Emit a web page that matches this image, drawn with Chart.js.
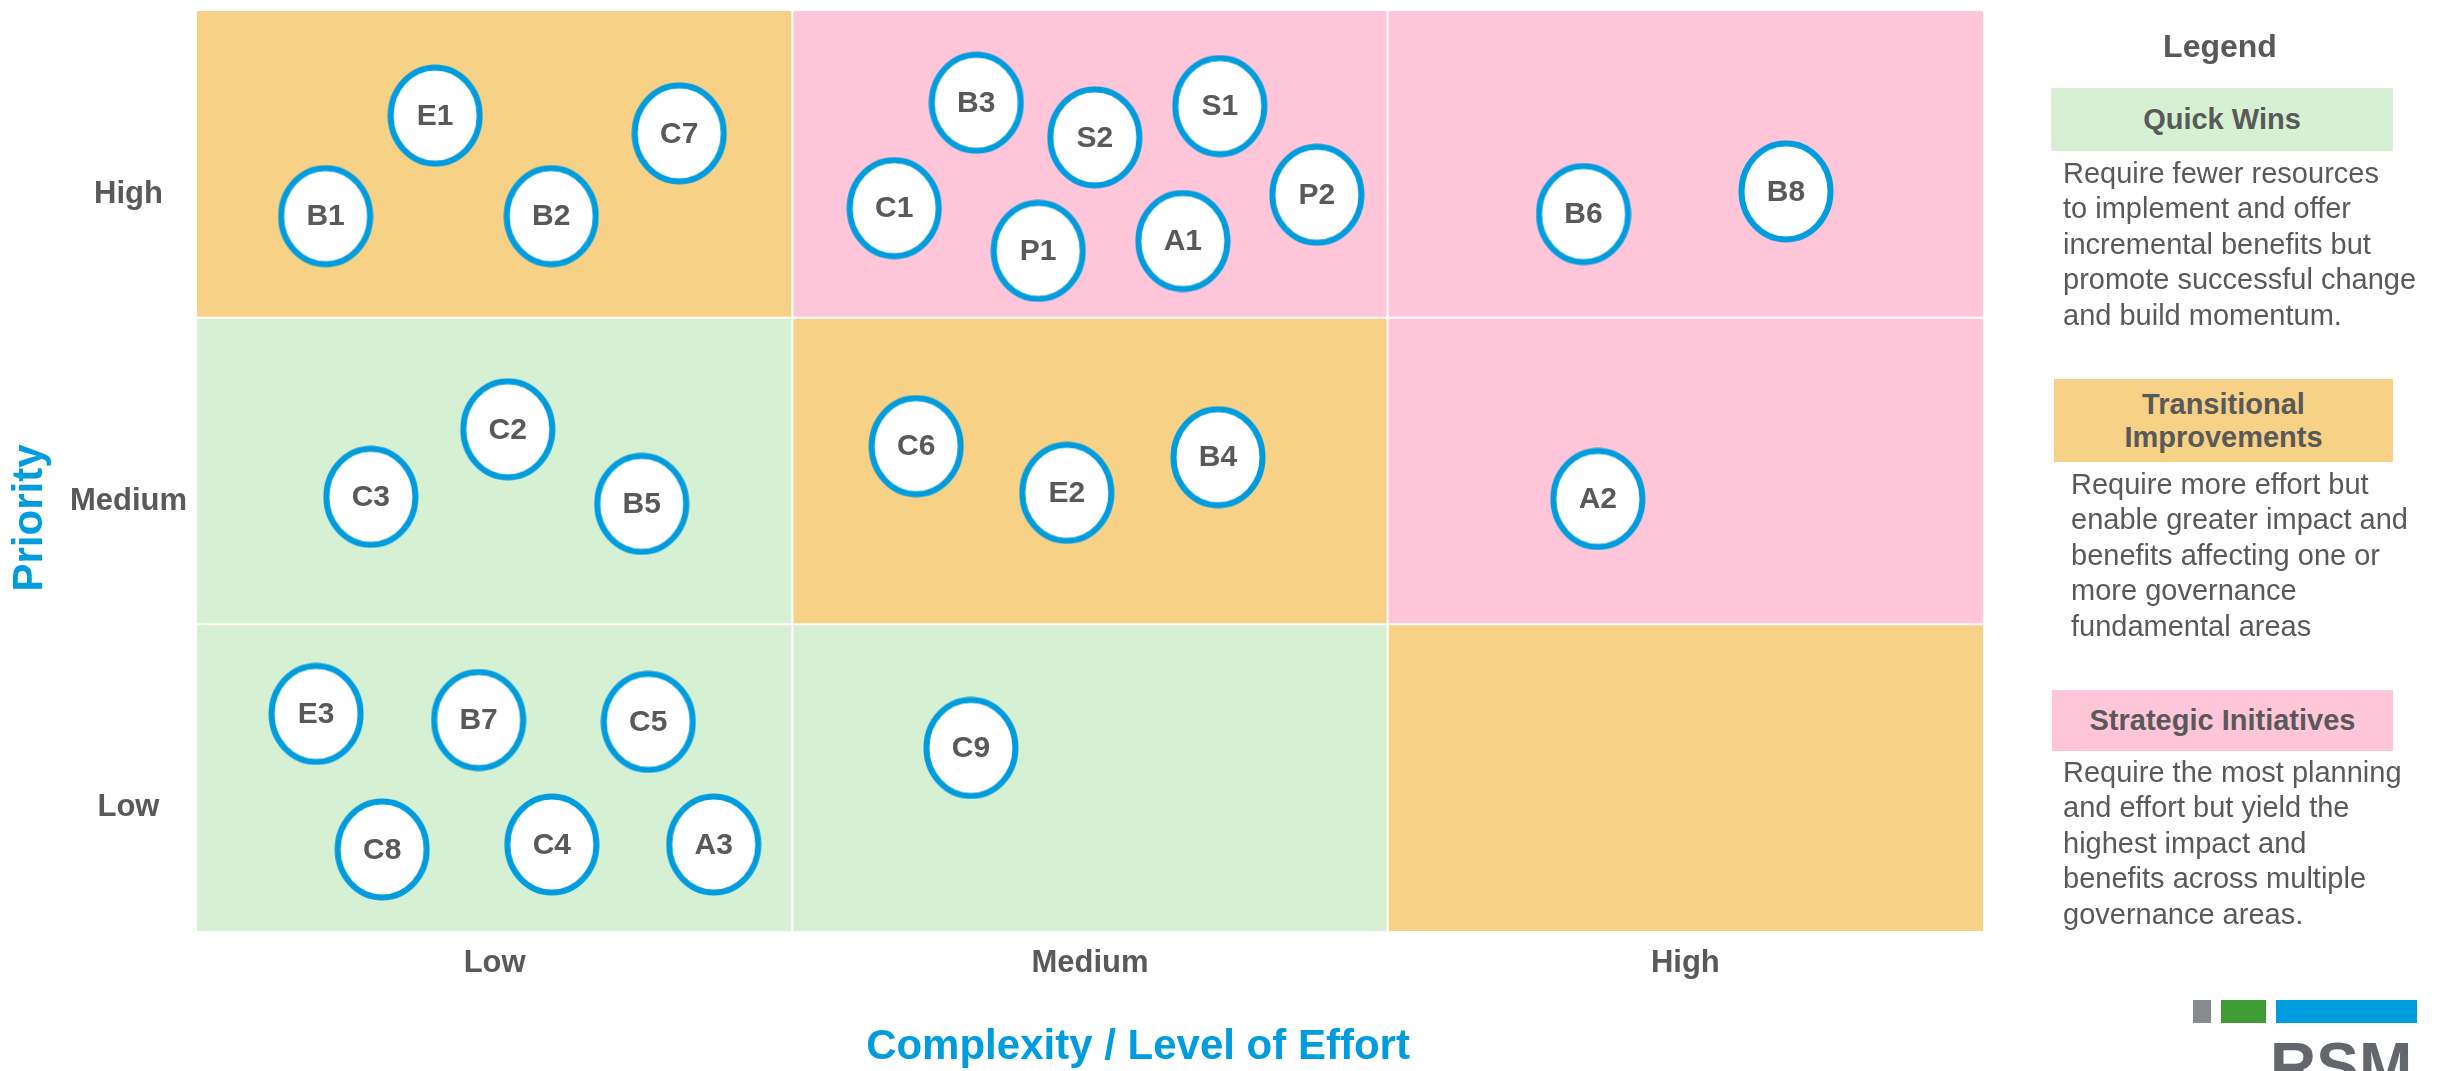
<!DOCTYPE html>
<html>
<head>
<meta charset="utf-8">
<script src="https://cdn.jsdelivr.net/npm/chart.js@4.4.1/dist/chart.umd.min.js"></script>
<style>
  html, body { margin: 0; padding: 0; background: #ffffff; overflow: hidden; }
  #wrap { position: relative; width: 2443px; height: 1071px; font-family: "Liberation Sans", Arial, sans-serif; }
  #chart { position: absolute; left: 0; top: 0; }
  .abs { position: absolute; }
  .lg-title { left: 2100px; top: 27px; width: 240px; text-align: center; font-weight: bold; font-size: 32px; line-height: 38px; color: #595959; }
  .lg-box { font-weight: bold; font-size: 29px; color: #595959; text-align: center; display: flex; align-items: center; justify-content: center; line-height: 33px; }
  .lg-desc { font-size: 29px; line-height: 35.4px; color: #595959; white-space: nowrap; }
  .logo-sq { position: absolute; top: 1000px; height: 23px; }
  .logo-txt { left: 2270px; top: 1034px; font-weight: bold; font-size: 64px; line-height: 64px; color: #63666A; }
</style>
</head>
<body>
<div id="wrap">
  <canvas id="chart" width="2443" height="1071"></canvas>

  <div class="abs lg-title">Legend</div>

  <div class="abs lg-box" style="left:2051px;top:88px;width:342px;height:63px;background:#D6F0D4;">Quick Wins</div>
  <div class="abs lg-desc" style="left:2063px;top:156px;">Require fewer resources<br>to implement and offer<br>incremental benefits but<br>promote successful change<br>and build momentum.</div>

  <div class="abs lg-box" style="left:2054px;top:379px;width:339px;height:83px;background:#F6D186;">Transitional<br>Improvements</div>
  <div class="abs lg-desc" style="left:2071px;top:467px;">Require more effort but<br>enable greater impact and<br>benefits affecting one or<br>more governance<br>fundamental areas</div>

  <div class="abs lg-box" style="left:2052px;top:690px;width:341px;height:61px;background:#FFC6D9;">Strategic Initiatives</div>
  <div class="abs lg-desc" style="left:2063px;top:755px;">Require the most planning<br>and effort but yield the<br>highest impact and<br>benefits across multiple<br>governance areas.</div>

  <div class="logo-sq" style="left:2193px;width:18px;background:#888B8D;"></div>
  <div class="logo-sq" style="left:2221px;width:45px;background:#3F9C35;"></div>
  <div class="logo-sq" style="left:2276px;width:141px;background:#009CDE;"></div>
  <div class="abs logo-txt">RSM</div>
</div>

<script>
// ---------- DATA ----------
const effortCategories = ['Low', 'Medium', 'High'];      // x axis, left to right
const priorityCategories = ['Low', 'Medium', 'High'];    // y axis, bottom to top

// quadrant type of each cell, rows = priority Low..High, cols = effort Low..High
const cellTypesLow    = ['Quick Wins', 'Quick Wins', 'Transitional Improvements'];
const cellTypesMedium = ['Quick Wins', 'Transitional Improvements', 'Strategic Initiatives'];
const cellTypesHigh   = ['Transitional Improvements', 'Strategic Initiatives', 'Strategic Initiatives'];

const itemLabels = ['B1','E1','B2','C7','C1','B3','S2','S1','P1','A1','P2','B6','B8',
                    'C3','C2','B5','C6','E2','B4','A2',
                    'E3','B7','C5','C8','C4','A3','C9'];
const itemEffort = [0.216,0.400,0.595,0.810,1.171,1.309,1.508,1.718,1.413,1.656,1.881,2.329,2.669,
                    0.292,0.522,0.747,1.208,1.461,1.715,2.353,
                    0.200,0.473,0.758,0.311,0.596,0.868,1.300];
const itemPriority = [2.331,2.659,2.331,2.601,2.357,2.701,2.588,2.690,2.218,2.250,2.401,2.338,2.412,
                      1.416,1.636,1.393,1.581,1.429,1.545,1.409,
                      0.708,0.688,0.682,0.266,0.282,0.282,0.597];

// ---------- STYLES ----------
const quadrantColors = {
  'Quick Wins': '#D6F0D4',
  'Transitional Improvements': '#F6D186',
  'Strategic Initiatives': '#FFC6D9'
};
const BLUE = '#009CDE';
const GREY_TEXT = '#595959';
const FONT = '"Liberation Sans", Arial, sans-serif';

function makeEllipse(w, h, lw, color) {
  const c = document.createElement('canvas');
  c.width = w; c.height = h;
  const g = c.getContext('2d');
  g.beginPath();
  g.ellipse(w / 2, h / 2, w / 2 - lw / 2 - 0.5, h / 2 - lw / 2 - 0.5, 0, 0, Math.PI * 2);
  g.fillStyle = '#ffffff';
  g.fill();
  g.lineWidth = lw;
  g.strokeStyle = color;
  g.stroke();
  return c;
}
const ellipseStyle = makeEllipse(96, 103, 6, BLUE);

const cellRows = [cellTypesLow, cellTypesMedium, cellTypesHigh];

const quadrantPlugin = {
  id: 'quadrants',
  beforeDraw(chart) {
    const { ctx, scales: { x, y } } = chart;
    ctx.save();
    cellRows.forEach((row, r) => {
      row.forEach((type, c) => {
        const x0 = x.getPixelForValue(c), x1 = x.getPixelForValue(c + 1);
        const y0 = y.getPixelForValue(r + 1), y1 = y.getPixelForValue(r);
        ctx.fillStyle = quadrantColors[type];
        ctx.fillRect(x0, y0, x1 - x0, y1 - y0);
      });
    });
    ctx.strokeStyle = '#ffffff';
    ctx.lineWidth = 2;
    for (let i = 1; i < effortCategories.length; i++) {
      const px = x.getPixelForValue(i);
      ctx.beginPath(); ctx.moveTo(px, y.top); ctx.lineTo(px, y.bottom); ctx.stroke();
    }
    for (let i = 1; i < priorityCategories.length; i++) {
      const py = y.getPixelForValue(i);
      ctx.beginPath(); ctx.moveTo(x.left, py); ctx.lineTo(x.right, py); ctx.stroke();
    }
    ctx.restore();
  },
  afterDatasetsDraw(chart) {
    const { ctx } = chart;
    const meta = chart.getDatasetMeta(0);
    ctx.save();
    ctx.font = 'bold 30px ' + FONT;
    ctx.fillStyle = GREY_TEXT;
    ctx.textAlign = 'center';
    ctx.textBaseline = 'middle';
    meta.data.forEach((pt, i) => {
      ctx.fillText(itemLabels[i], pt.x, pt.y + 1);
    });
    ctx.restore();
  },
  afterDraw(chart) {
    const { ctx, chartArea: a } = chart;
    ctx.save();
    ctx.font = 'bold 42px ' + FONT;
    ctx.fillStyle = BLUE;
    ctx.textAlign = 'center';
    ctx.textBaseline = 'middle';
    ctx.fillText('Complexity / Level of Effort', (a.left + a.right) / 2 + 48, a.bottom + 116);
    ctx.translate(a.left - 167, (a.top + a.bottom) / 2 + 47);
    ctx.rotate(-Math.PI / 2);
    ctx.fillText('Priority', 0, 0);
    ctx.restore();
  }
};

const centerTicks = (cats) => (scale) => {
  scale.ticks = cats.map((_, i) => ({ value: i + 0.5 }));
};

new Chart(document.getElementById('chart'), {
  type: 'scatter',
  data: {
    datasets: [{
      label: 'Items',
      data: itemLabels.map((_, i) => ({ x: itemEffort[i], y: itemPriority[i] })),
      pointStyle: ellipseStyle,
      pointRadius: 10,
      pointHoverRadius: 10
    }]
  },
  options: {
    responsive: false,
    animation: false,
    events: [],
    layout: { padding: { left: 55, right: 460, top: 7, bottom: 0 } },
    plugins: { legend: { display: false }, tooltip: { enabled: false } },
    scales: {
      x: {
        type: 'linear', min: 0, max: effortCategories.length,
        afterBuildTicks: centerTicks(effortCategories),
        afterFit: (s) => { s.height = 140; s.paddingLeft = 0; s.paddingRight = 0; },
        grid: { display: false, drawTicks: false },
        border: { display: false },
        ticks: {
          padding: 14,
          autoSkip: false,
          maxRotation: 0,
          color: GREY_TEXT,
          font: { family: FONT, size: 31, weight: 'bold' },
          callback: (v, i) => effortCategories[i]
        }
      },
      y: {
        type: 'linear', min: 0, max: priorityCategories.length,
        afterBuildTicks: centerTicks(priorityCategories),
        afterFit: (s) => { s.width = 142; s.paddingTop = 0; s.paddingBottom = 0; },
        grid: { display: false, drawTicks: false },
        border: { display: false },
        ticks: {
          padding: 10,
          crossAlign: 'center',
          labelOffset: 30,
          autoSkip: false,
          color: GREY_TEXT,
          font: { family: FONT, size: 31, weight: 'bold' },
          callback: (v, i) => priorityCategories[i]
        }
      }
    }
  },
  plugins: [quadrantPlugin]
});
</script>
</body>
</html>
